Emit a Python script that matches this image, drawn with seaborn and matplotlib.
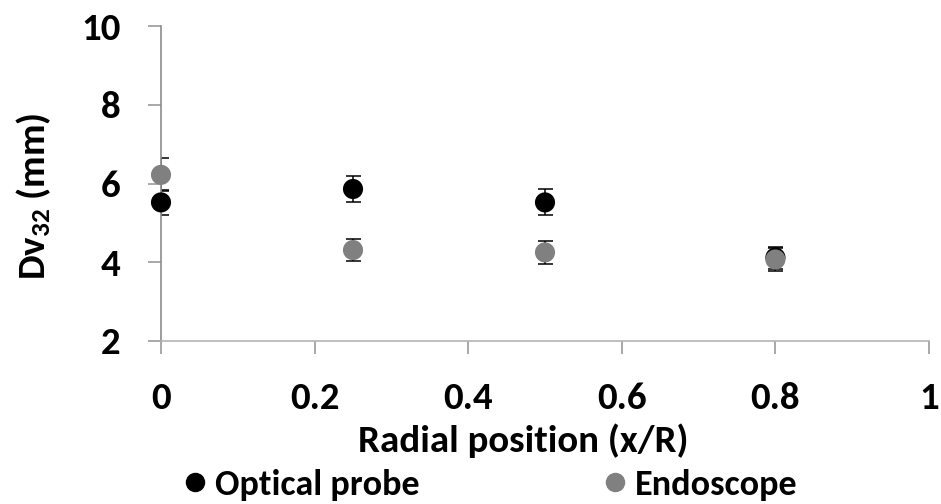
import seaborn as sns
import matplotlib.pyplot as plt
import pandas as pd

# valeurs
positions = [0, 0.25, 0.5, 0.8]
optical_dv32 = [5.52, 5.86, 5.52, 4.12]
optical_err = [0.32, 0.34, 0.33, 0.28]
endo_dv32 = [6.22, 4.31, 4.25, 4.07]
endo_err = [0.42, 0.29, 0.30, 0.28]
series = ["Optical probe", "Endoscope"]
colors = ["#000000", "#808080"]
xticks = [0, 0.2, 0.4, 0.6, 0.8, 1]
xtick_labels = ["0", "0.2", "0.4", "0.6", "0.8", "1"]
yticks = [2, 4, 6, 8, 10]

df = pd.DataFrame({
    "x": positions * 2,
    "dv32": optical_dv32 + endo_dv32,
    "err": optical_err + endo_err,
    "series": [series[0]] * 4 + [series[1]] * 4,
})

sns.set_style("white")
plt.rcParams["font.family"] = ["Carlito", "DejaVu Sans"]
plt.rcParams["font.weight"] = "bold"
plt.rcParams["text.color"] = "black"
plt.rcParams["axes.labelcolor"] = "black"
plt.rcParams["xtick.labelcolor"] = "black"
plt.rcParams["ytick.labelcolor"] = "black"
plt.rcParams["mathtext.fontset"] = "custom"
plt.rcParams["mathtext.rm"] = "Carlito:bold"
plt.rcParams["mathtext.it"] = "Carlito:bold"
plt.rcParams["mathtext.bf"] = "Carlito:bold"

fig = plt.figure(figsize=(9.41, 5.04), dpi=100)
ax = fig.add_axes([161 / 941, 1 - 341 / 504, 768 / 941, 315 / 504])

# barres d'erreur
for s in series:
    d = df[df["series"] == s]
    ax.errorbar(d["x"], d["dv32"], yerr=d["err"], fmt="none", ecolor="black",
                elinewidth=1.1, capsize=5.4, capthick=1.1, zorder=2)

sns.scatterplot(data=df, x="x", y="dv32", hue="series", palette=colors,
                s=210, edgecolor="none", ax=ax, legend=False, zorder=3, clip_on=False)

ax.set_xlim(0, 1)
ax.set_ylim(2, 10)
ax.set_xticks(xticks)
ax.set_xticklabels(xtick_labels)
ax.set_yticks(yticks)

sns.despine(ax=ax)
ax.spines["left"].set_color("#8c8c8c")
ax.spines["bottom"].set_color("#b4b4b4")
for sp in ["left", "bottom"]:
    ax.spines[sp].set_linewidth(1.2)
ax.tick_params(axis="both", direction="out", length=9.2, width=1.2, color="#9a9a9a",
               labelsize=28, pad=20, labelcolor="black")
ax.tick_params(left=True, bottom=True)

ax.set_xlabel("Radial position (x/R)", fontsize=28, fontweight="bold", color="black")
ax.xaxis.set_label_coords((523.5 - 161) / 768, (341 - 452) / 315)
ax.xaxis.label.set_va("baseline")
ax.set_ylabel("Dv$_{32}$ (mm)", fontsize=28, fontweight="bold", color="black")
ax.yaxis.set_label_coords((34 - 161) / 768, (341 - 196) / 315)
ax.yaxis.label.set_va("center")

handles = [plt.Line2D([], [], marker="o", ls="none", color=c, markersize=13) for c in colors]
fig.legend(handles, series, loc="center", bbox_to_anchor=(489 / 941, 1 - 485 / 504),
           ncol=2, frameon=False, fontsize=26, handletextpad=0.15, borderpad=0,
           columnspacing=5.0, handlelength=0.8, labelcolor="black")

fig.savefig("out.png", dpi=100)
